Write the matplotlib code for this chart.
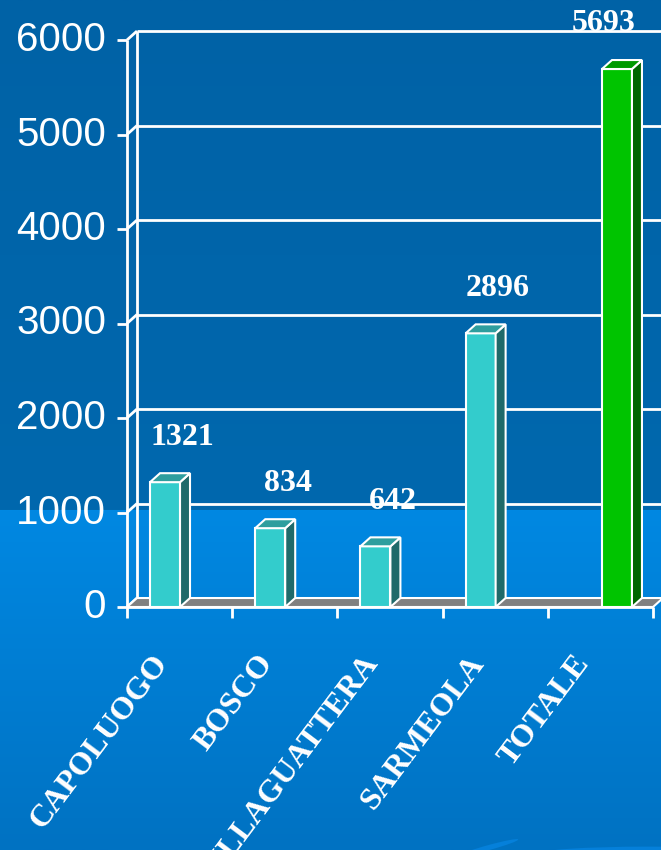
import numpy as np
import matplotlib
matplotlib.use('Agg')
import matplotlib.pyplot as plt
from matplotlib.patches import Polygon, Ellipse
from matplotlib.colors import LinearSegmentedColormap

# data
categories = ['CAPOLUOGO', 'BOSCO', 'VILLAGUATTERA', 'SARMEOLA', 'TOTALE']
values = [1321, 834, 642, 2896, 5693]
is_total = [False, False, False, False, True]
y_ticks = [0, 1000, 2000, 3000, 4000, 5000, 6000]

# colours (front, side, top)
teal = ('#33CCCC', '#1F6A6A', '#2E9E9E')
green = ('#00C400', '#006600', '#009A00')

# 3d geometry in data units
dx, dy = 0.095, 95
bar_w = 0.285
floor_end = 5.0

fig = plt.figure(figsize=(6.61, 8.5), dpi=100)

# background: dark upper band, lighter lower band
bg = fig.add_axes([0, 0, 1, 1], zorder=-10)
bg.set_xlim(0, 1)
bg.set_ylim(0, 1)
bg.axis('off')
split = (850 - 510) / 850
top_cmap = LinearSegmentedColormap.from_list('t', ['#0068AE', '#0062A6'])
low_cmap = LinearSegmentedColormap.from_list('l', ['#0072C2', '#0088E2'])
grad = np.linspace(0, 1, 256).reshape(-1, 1)
bg.imshow(grad, extent=[0, 1, split, 1], origin='lower', cmap=top_cmap, aspect='auto')
bg.imshow(grad, extent=[0, 1, 0, split], origin='lower', cmap=low_cmap, aspect='auto')
bg.add_patch(Ellipse((0.98, -0.005), 0.34, 0.018, color='#0580DA', lw=0))
bg.add_patch(Ellipse((0.74, 0.003), 0.09, 0.006, angle=12, color='#0580DA', lw=0))

ax = fig.add_axes([127 / 661, (850 - 607) / 850, 534 / 661, (607 - 40) / 850])
ax.patch.set_alpha(0)
ax.set_xlim(0, 534 / 105.2)
ax.set_ylim(0, 6000)
for s in ax.spines.values():
    s.set_visible(False)
ax.set_xticks([])
ax.set_yticks([])

wl = dict(color='white', lw=2, clip_on=False, solid_capstyle='butt')

# floor
ax.add_patch(Polygon([(0, 0), (floor_end, 0), (floor_end + dx, dy), (dx, dy)],
                     closed=True, facecolor='#808080', edgecolor='white', lw=1.5,
                     clip_on=False, zorder=1))

# back wall gridlines + side wall connectors
for t in y_ticks:
    if t > 0:
        ax.plot([dx, 10], [t + dy, t + dy], zorder=0.5, **wl)
    ax.plot([0, dx], [t, t + dy], zorder=0.5, **wl)
ax.plot([dx, dx], [dy, y_ticks[-1] + dy], zorder=0.5, **wl)

# front axes
ax.plot([0, 0], [0, y_ticks[-1]], zorder=5, **wl)
ax.plot([0, floor_end], [0, 0], zorder=5, **wl)
for t in y_ticks:
    ax.plot([-0.095, 0], [t, t], zorder=5, **wl)
    ax.text(-0.2, t, str(t), ha='right', va='center', fontsize=29,
            color='white', family='Liberation Sans')
for i in range(len(categories) + 1):
    ax.plot([i, i], [0, -120], zorder=5, **wl)

# bars
for i, (name, v, tot) in enumerate(zip(categories, values, is_total)):
    front, side, top = green if tot else teal
    x0 = i + (0.515 if tot else 0.219)
    x1 = x0 + bar_w
    ek = dict(edgecolor='white', lw=1.5, clip_on=False, zorder=3, joinstyle='miter')
    ax.add_patch(Polygon([(x0, 0), (x1, 0), (x1, v), (x0, v)], facecolor=front, **ek))
    ax.add_patch(Polygon([(x1, 0), (x1 + dx, dy), (x1 + dx, v + dy), (x1, v)],
                         facecolor=side, **ek))
    ax.add_patch(Polygon([(x0, v), (x1, v), (x1 + dx, v + dy), (x0 + dx, v + dy)],
                         facecolor=top, **ek))
    ax.annotate(str(v), (i + 0.5, v + dy), xytext=(2, 26),
                textcoords='offset points', ha='center', va='center',
                fontsize=23, fontweight='bold', color='white',
                family='Liberation Serif', annotation_clip=False, zorder=6)
    ax.annotate(name, (i + 0.5, 0), xytext=(-12, -37), textcoords='offset points',
                ha='right', va='center', rotation=53, rotation_mode='anchor',
                fontsize=23, fontweight='bold', color='white',
                family='Liberation Serif', annotation_clip=False)

fig.savefig('out.png', dpi=100)
